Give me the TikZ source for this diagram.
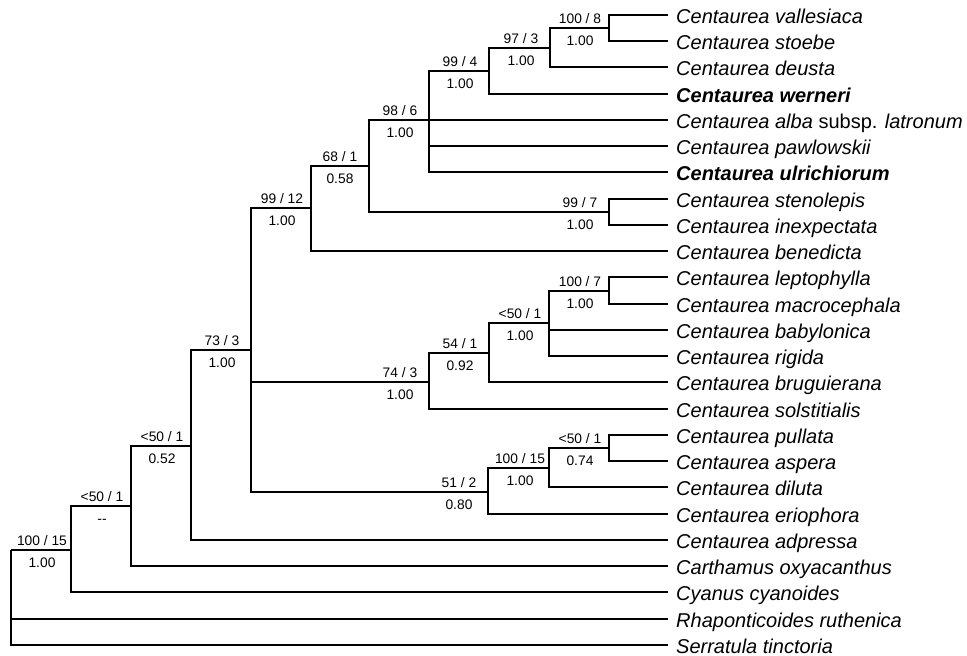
\documentclass[tikz,border=0pt]{standalone}
\usepackage{fontspec}
\setmainfont{Liberation Sans}
\newcommand\brlab[3]{%
  \node[uplab] (#1t) at ([xshift=-29pt,yshift=5pt]#1) {#2};
  \node[dnlab] (#1b) at ([xshift=-29pt,yshift=-17pt]#1) {#3};}
\begin{document}
\begin{tikzpicture}[x=1pt,y=-1pt,
  br/.style={draw=black, line width=2pt},
  sp/.style={anchor=west, inner xsep=8pt, inner ysep=0pt, text height=16pt, text depth=0pt,
    font=\fontsize{20}{22}\selectfont\itshape},
  uplab/.style={anchor=base, inner sep=0pt, font=\fontsize{13.8}{15}\selectfont},
  dnlab/.style={anchor=base, inner sep=0pt, font=\fontsize{13.8}{15}\selectfont}]
\useasboundingbox (0,0) rectangle (967,656);
% leaves
\node[sp] (l0)  at (668,15)  {Centaurea vallesiaca};
\node[sp] (l1)  at (668,41)  {Centaurea stoebe};
\node[sp] (l2)  at (668,67)  {Centaurea deusta};
\node[sp] (l3)  at (668,94)  {\bfseries Centaurea werneri};
\node[sp] (l4)  at (668,120) {Centaurea alba \upshape subsp. \itshape latronum};
\node[sp] (l5)  at (668,146) {Centaurea pawlowskii};
\node[sp] (l6)  at (668,172) {\bfseries Centaurea ulrichiorum};
\node[sp] (l7)  at (668,199) {Centaurea stenolepis};
\node[sp] (l8)  at (668,225) {Centaurea inexpectata};
\node[sp] (l9)  at (668,251) {Centaurea benedicta};
\node[sp] (l10) at (668,277) {Centaurea leptophylla};
\node[sp] (l11) at (668,304) {Centaurea macrocephala};
\node[sp] (l12) at (668,330) {Centaurea babylonica};
\node[sp] (l13) at (668,356) {Centaurea rigida};
\node[sp] (l14) at (668,382) {Centaurea bruguierana};
\node[sp] (l15) at (668,409) {Centaurea solstitialis};
\node[sp] (l16) at (668,435) {Centaurea pullata};
\node[sp] (l17) at (668,461) {Centaurea aspera};
\node[sp] (l18) at (668,487) {Centaurea diluta};
\node[sp] (l19) at (668,514) {Centaurea eriophora};
\node[sp] (l20) at (668,540) {Centaurea adpressa};
\node[sp] (l21) at (668,566) {Carthamus oxyacanthus};
\node[sp] (l22) at (668,592) {Cyanus cyanoides};
\node[sp] (l23) at (668,619) {Rhaponticoides ruthenica};
\node[sp] (l24) at (668,645) {Serratula tinctoria};
% internal nodes
\coordinate (O) at (609,28);
\coordinate (N) at (550,48);
\coordinate (M) at (489,71);
\coordinate (L) at (429,120);
\coordinate (P) at (609,212);
\coordinate (K) at (369,166);
\coordinate (F) at (311,208);
\coordinate (S) at (609,291);
\coordinate (R) at (549,323);
\coordinate (Q) at (489,353);
\coordinate (G) at (429,382);
\coordinate (U) at (609,448);
\coordinate (T) at (549,468);
\coordinate (H) at (488,492);
\coordinate (E) at (251,350);
\coordinate (D) at (191,446);
\coordinate (C) at (131,506);
\coordinate (B) at (71,550);
\coordinate (A) at (11,550);
% branches
\draw[br] (O) |- (l0.west);
\draw[br] (O) |- (l1.west);
\draw[br] (N) |- (O);
\draw[br] (N) |- (l2.west);
\draw[br] (M) |- (N);
\draw[br] (M) |- (l3.west);
\draw[br] (L) |- (M);
\draw[br] (L) |- (l4.west);
\draw[br] (L) |- (l5.west);
\draw[br] (L) |- (l6.west);
\draw[br] (P) |- (l7.west);
\draw[br] (P) |- (l8.west);
\draw[br] (K) |- (L);
\draw[br] (K) |- (P);
\draw[br] (F) |- (K);
\draw[br] (F) |- (l9.west);
\draw[br] (S) |- (l10.west);
\draw[br] (S) |- (l11.west);
\draw[br] (R) |- (S);
\draw[br] (R) |- (l12.west);
\draw[br] (R) |- (l13.west);
\draw[br] (Q) |- (R);
\draw[br] (Q) |- (l14.west);
\draw[br] (G) |- (Q);
\draw[br] (G) |- (l15.west);
\draw[br] (U) |- (l16.west);
\draw[br] (U) |- (l17.west);
\draw[br] (T) |- (U);
\draw[br] (T) |- (l18.west);
\draw[br] (H) |- (T);
\draw[br] (H) |- (l19.west);
\draw[br] (E) |- (F);
\draw[br] (E) |- (G);
\draw[br] (E) |- (H);
\draw[br] (D) |- (E);
\draw[br] (D) |- (l20.west);
\draw[br] (C) |- (D);
\draw[br] (C) |- (l21.west);
\draw[br] (B) |- (C);
\draw[br] (B) |- (l22.west);
\draw[br] (A) |- (B);
\draw[br] (A) |- (l23.west);
\draw[br] (A) |- (l24.west);
% support labels
\brlab{O}{100 / 8}{1.00}
\brlab{N}{97 / 3}{1.00}
\brlab{M}{99 / 4}{1.00}
\brlab{L}{98 / 6}{1.00}
\brlab{P}{99 / 7}{1.00}
\brlab{K}{68 / 1}{0.58}
\brlab{F}{99 / 12}{1.00}
\brlab{S}{100 / 7}{1.00}
\brlab{R}{<50 / 1}{1.00}
\brlab{Q}{54 / 1}{0.92}
\brlab{G}{74 / 3}{1.00}
\brlab{U}{<50 / 1}{0.74}
\brlab{T}{100 / 15}{1.00}
\brlab{H}{51 / 2}{0.80}
\brlab{E}{73 / 3}{1.00}
\brlab{D}{<50 / 1}{0.52}
\brlab{C}{<50 / 1}{-{}-}
\brlab{B}{100 / 15}{1.00}
\end{tikzpicture}
\end{document}
